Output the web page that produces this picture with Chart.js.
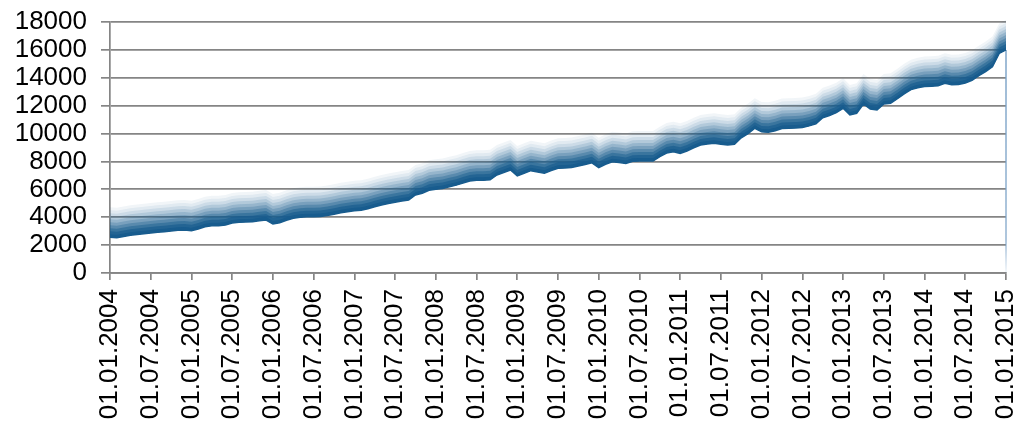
<!DOCTYPE html>
<html>
<head>
<meta charset="utf-8">
<script src="https://cdn.jsdelivr.net/npm/chart.js@4.4.0/dist/chart.umd.min.js"></script>
<style>
  html, body { margin: 0; padding: 0; background: #fff; }
  #wrap { width: 1019px; height: 424px; }
</style>
</head>
<body>
<div id="wrap"><canvas id="indexChart"></canvas></div>
<script>
// Monthly values, 01.2004 .. 01.2015
const values = [
    2560, 2520, 2620, 2700, 2760, 2820, 2870, 2920, 2960, 3010, 3060, 3090,
    3030, 3150, 3320, 3380, 3390, 3450, 3590, 3640, 3660, 3680, 3740, 3800,
    3520, 3600, 3780, 3920, 3990, 4040, 4040, 4050, 4120, 4220, 4320, 4390,
    4460, 4500, 4600, 4750, 4880, 4980, 5080, 5160, 5240, 5600, 5720, 5930,
    6000, 6060, 6180, 6300, 6450, 6600, 6650, 6660, 6680, 7030, 7200, 7390,
    6960, 7150, 7340, 7250, 7150, 7350, 7510, 7530, 7570, 7680, 7780, 7900,
    7550, 7800, 7980, 7920, 7860, 8020, 8030, 8030, 8030, 8340, 8600, 8700,
    8580, 8750, 8980, 9180, 9250, 9300, 9240, 9180, 9230, 9700, 10000, 10380,
    10120, 10090, 10200, 10360, 10380, 10390, 10430, 10550, 10700, 11130, 11300, 11500,
    11810, 11330, 11450, 12120, 11760, 11690, 12120, 12170, 12500, 12850, 13150, 13280,
    13370, 13390, 13430, 13600, 13500, 13520, 13620, 13820, 14150, 14450, 14800, 15750,
    16000
];

// Labels shown on the x axis (every 6th month)
const tickLabels = [
    '01.01.2004', '01.07.2004', '01.01.2005', '01.07.2005', '01.01.2006', '01.07.2006',
    '01.01.2007', '01.07.2007', '01.01.2008', '01.07.2008', '01.01.2009', '01.07.2009',
    '01.01.2010', '01.07.2010', '01.01.2011', '01.07.2011', '01.01.2012', '01.07.2012',
    '01.01.2013', '01.07.2013', '01.01.2014', '01.07.2014', '01.01.2015'
];

const yMin = 0;
const yMax = 18000;
const yStep = 2000;

// one category per month
const months = [];
for (let i = 0; i < values.length; i++) {
    const y = 2004 + Math.floor(i / 12);
    const m = (i % 12) + 1;
    months.push('01.' + (m < 10 ? '0' + m : m) + '.' + y);
}

const blue = [24, 92, 142];

// soft band above the line, dark at the line and fading upwards
const bandPlugin = {
    id: 'band',
    beforeDatasetsDraw(chart) {
        const pts = chart.getDatasetMeta(0).data;
        if (!pts.length) return;
        const ctx = chart.ctx;
        const area = chart.chartArea;
        const h = 3;
        const target = [1, 0.95, 0.85, 0.72, 0.58, 0.45, 0.33, 0.22, 0.13, 0.06];
        const n = target.length;

        ctx.save();
        ctx.beginPath();
        ctx.rect(area.left, 0, area.right - area.left + 2, area.bottom);
        ctx.clip();
        for (let j = n - 1; j >= 0; j--) {
            const next = j + 1 < n ? target[j + 1] : 0;
            const a = target[j] >= 1 ? 1 : 1 - (1 - target[j]) / (1 - next);
            const off = (j + 1) * h;
            ctx.beginPath();
            ctx.moveTo(pts[0].x, pts[0].y);
            for (let k = 1; k < pts.length; k++) ctx.lineTo(pts[k].x, pts[k].y);
            for (let k = pts.length - 1; k >= 0; k--) ctx.lineTo(pts[k].x, pts[k].y - off);
            ctx.closePath();
            ctx.fillStyle = `rgba(${blue[0]}, ${blue[1]}, ${blue[2]}, ${a})`;
            ctx.fill();
        }

        // thin light edge down to the axis at the end of the series
        const last = pts[pts.length - 1];
        const grad = ctx.createLinearGradient(0, last.y, 0, area.bottom);
        grad.addColorStop(0, 'rgba(120, 160, 198, 0.95)');
        grad.addColorStop(0.85, 'rgba(120, 160, 198, 0.8)');
        grad.addColorStop(1, 'rgba(120, 160, 198, 0.1)');
        ctx.beginPath();
        ctx.moveTo(last.x, last.y);
        ctx.lineTo(last.x, area.bottom);
        ctx.strokeStyle = grad;
        ctx.lineWidth = 1.5;
        ctx.stroke();
        ctx.restore();
    }
};

const axisFont = { family: "'Liberation Sans', Arial, sans-serif", size: 26 };
const gridGray = '#858585';

new Chart(document.getElementById('indexChart'), {
    type: 'line',
    data: {
        labels: months,
        datasets: [{
            data: values,
            borderColor: 'rgb(24, 92, 142)',
            borderWidth: 1.5,
            pointRadius: 0,
            fill: false,
            tension: 0
        }]
    },
    options: {
        responsive: true,
        maintainAspectRatio: false,
        animation: false,
        layout: {
            padding: { top: 22, right: 13, left: 0, bottom: 0 }
        },
        plugins: {
            legend: { display: false },
            tooltip: { enabled: false }
        },
        scales: {
            x: {
                afterFit: scale => {
                    scale.height = 151;
                    scale.paddingRight = 0;
                    scale.paddingLeft = 0;
                },
                grid: {
                    drawOnChartArea: false,
                    drawTicks: true,
                    tickLength: 7,
                    color: gridGray,
                    lineWidth: 1.7
                },
                border: { display: true, color: gridGray, width: 1.7 },
                ticks: {
                    autoSkip: false,
                    maxRotation: 90,
                    minRotation: 90,
                    padding: 9,
                    color: '#000',
                    font: axisFont,
                    callback: function(value, index) {
                        return index % 6 === 0 ? tickLabels[index / 6] : null;
                    }
                }
            },
            y: {
                min: yMin,
                max: yMax,
                afterFit: scale => {
                    scale.width = 110;
                    scale.paddingTop = 0;
                    scale.paddingBottom = 0;
                },
                grid: {
                    color: gridGray,
                    lineWidth: 1.7,
                    tickLength: 9
                },
                border: { display: true, color: gridGray, width: 1.7 },
                ticks: {
                    stepSize: yStep,
                    autoSkip: false,
                    padding: 14,
                    color: '#000',
                    font: axisFont,
                    callback: v => String(v)
                }
            }
        }
    },
    plugins: [bandPlugin]
});
</script>
</body>
</html>
